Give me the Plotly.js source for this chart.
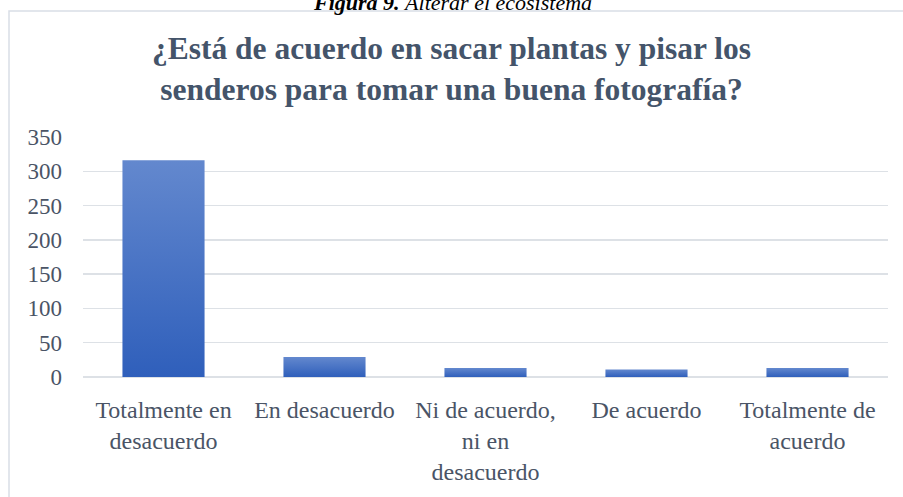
<!DOCTYPE html>
<html>
<head>
<meta charset="utf-8">
<script src="https://cdn.plot.ly/plotly-3.0.1.min.js"></script>
<style>
html,body{margin:0;padding:0;background:#fff;}
#chart{width:903px;height:497px;}
</style>
</head>
<body>
<div id="chart"></div>
<script>
const categories = [
  "Totalmente en<br>desacuerdo",
  "En desacuerdo",
  "Ni de acuerdo,<br>ni en<br>desacuerdo",
  "De acuerdo",
  "Totalmente de<br>acuerdo"
];
const values = [316, 29, 13, 11, 13];
const yTicks = [0, 50, 100, 150, 200, 250, 300, 350];

const serif = "Liberation Serif, Times New Roman, serif";

const trace = {
  type: "bar",
  x: categories,
  y: values,
  marker: {color: "#4472C4", line: {width: 0}},
  hoverinfo: "none"
};

const layout = {
  width: 903,
  height: 497,
  margin: {l: 83, r: 15, t: 137, b: 120, pad: 0},
  paper_bgcolor: "#ffffff",
  plot_bgcolor: "#ffffff",
  bargap: 0.49,
  showlegend: false,
  title: {
    text: "<b>¿Está de acuerdo en sacar plantas y pisar los<br>senderos para tomar una buena fotografía?</b>",
    font: {family: serif, size: 31.5, color: "#44546A"},
    x: 0.5, xanchor: "center",
    y: 1 - 59 / 497, yanchor: "middle"
  },
  xaxis: {
    showgrid: false,
    zeroline: false,
    showline: false,
    ticks: "",
    ticklabelstandoff: 16,
    tickfont: {family: serif, size: 24, color: "#4a5466"},
    fixedrange: true
  },
  yaxis: {
    range: [0, 350],
    tickvals: yTicks,
    ticktext: yTicks.map(String),
    showgrid: true,
    gridcolor: "#DDE1E6",
    gridwidth: 1.5,
    zeroline: true,
    zerolinecolor: "#DDE1E6",
    zerolinewidth: 1.5,
    showline: false,
    ticks: "",
    ticklabelstandoff: 20,
    tickfont: {family: serif, size: 23, color: "#4a5466"},
    fixedrange: true
  },
  shapes: [{
    type: "rect",
    xref: "paper", yref: "paper",
    x0: (9 - 83) / 805, x1: (910 - 83) / 805,
    y0: -(505 - 377) / 240, y1: 1 + (137 - 11) / 240,
    line: {color: "#D9DEE6", width: 1.5},
    fillcolor: "rgba(0,0,0,0)",
    layer: "below"
  }],
  annotations: [{
    xref: "paper", yref: "paper",
    x: (452 - 83) / 805, y: 1 + (137 - 2) / 240,
    xanchor: "center", yanchor: "middle",
    showarrow: false,
    text: "<b><i>Figura 9.</i></b> <i>Alterar el ecosistema</i>",
    font: {family: serif, size: 22, color: "#000000"}
  }]
};

Plotly.newPlot("chart", [trace], layout, {displayModeBar: false, staticPlot: true}).then(function(gd){
  const svg = gd.querySelector("svg.main-svg");
  const ns = "http://www.w3.org/2000/svg";
  let defs = svg.querySelector("defs");
  if (!defs) { defs = document.createElementNS(ns, "defs"); svg.insertBefore(defs, svg.firstChild); }
  const grad = document.createElementNS(ns, "linearGradient");
  grad.setAttribute("id", "barGrad");
  grad.setAttribute("x1", "0"); grad.setAttribute("y1", "0");
  grad.setAttribute("x2", "0"); grad.setAttribute("y2", "1");
  const s1 = document.createElementNS(ns, "stop");
  s1.setAttribute("offset", "0"); s1.setAttribute("stop-color", "#6388CE");
  const s2 = document.createElementNS(ns, "stop");
  s2.setAttribute("offset", "1"); s2.setAttribute("stop-color", "#2F5FBB");
  grad.appendChild(s1); grad.appendChild(s2);
  defs.appendChild(grad);
  gd.querySelectorAll(".bars .point path").forEach(function(p){
    p.style.fill = "url(#barGrad)";
  });
});
</script>
</body>
</html>
